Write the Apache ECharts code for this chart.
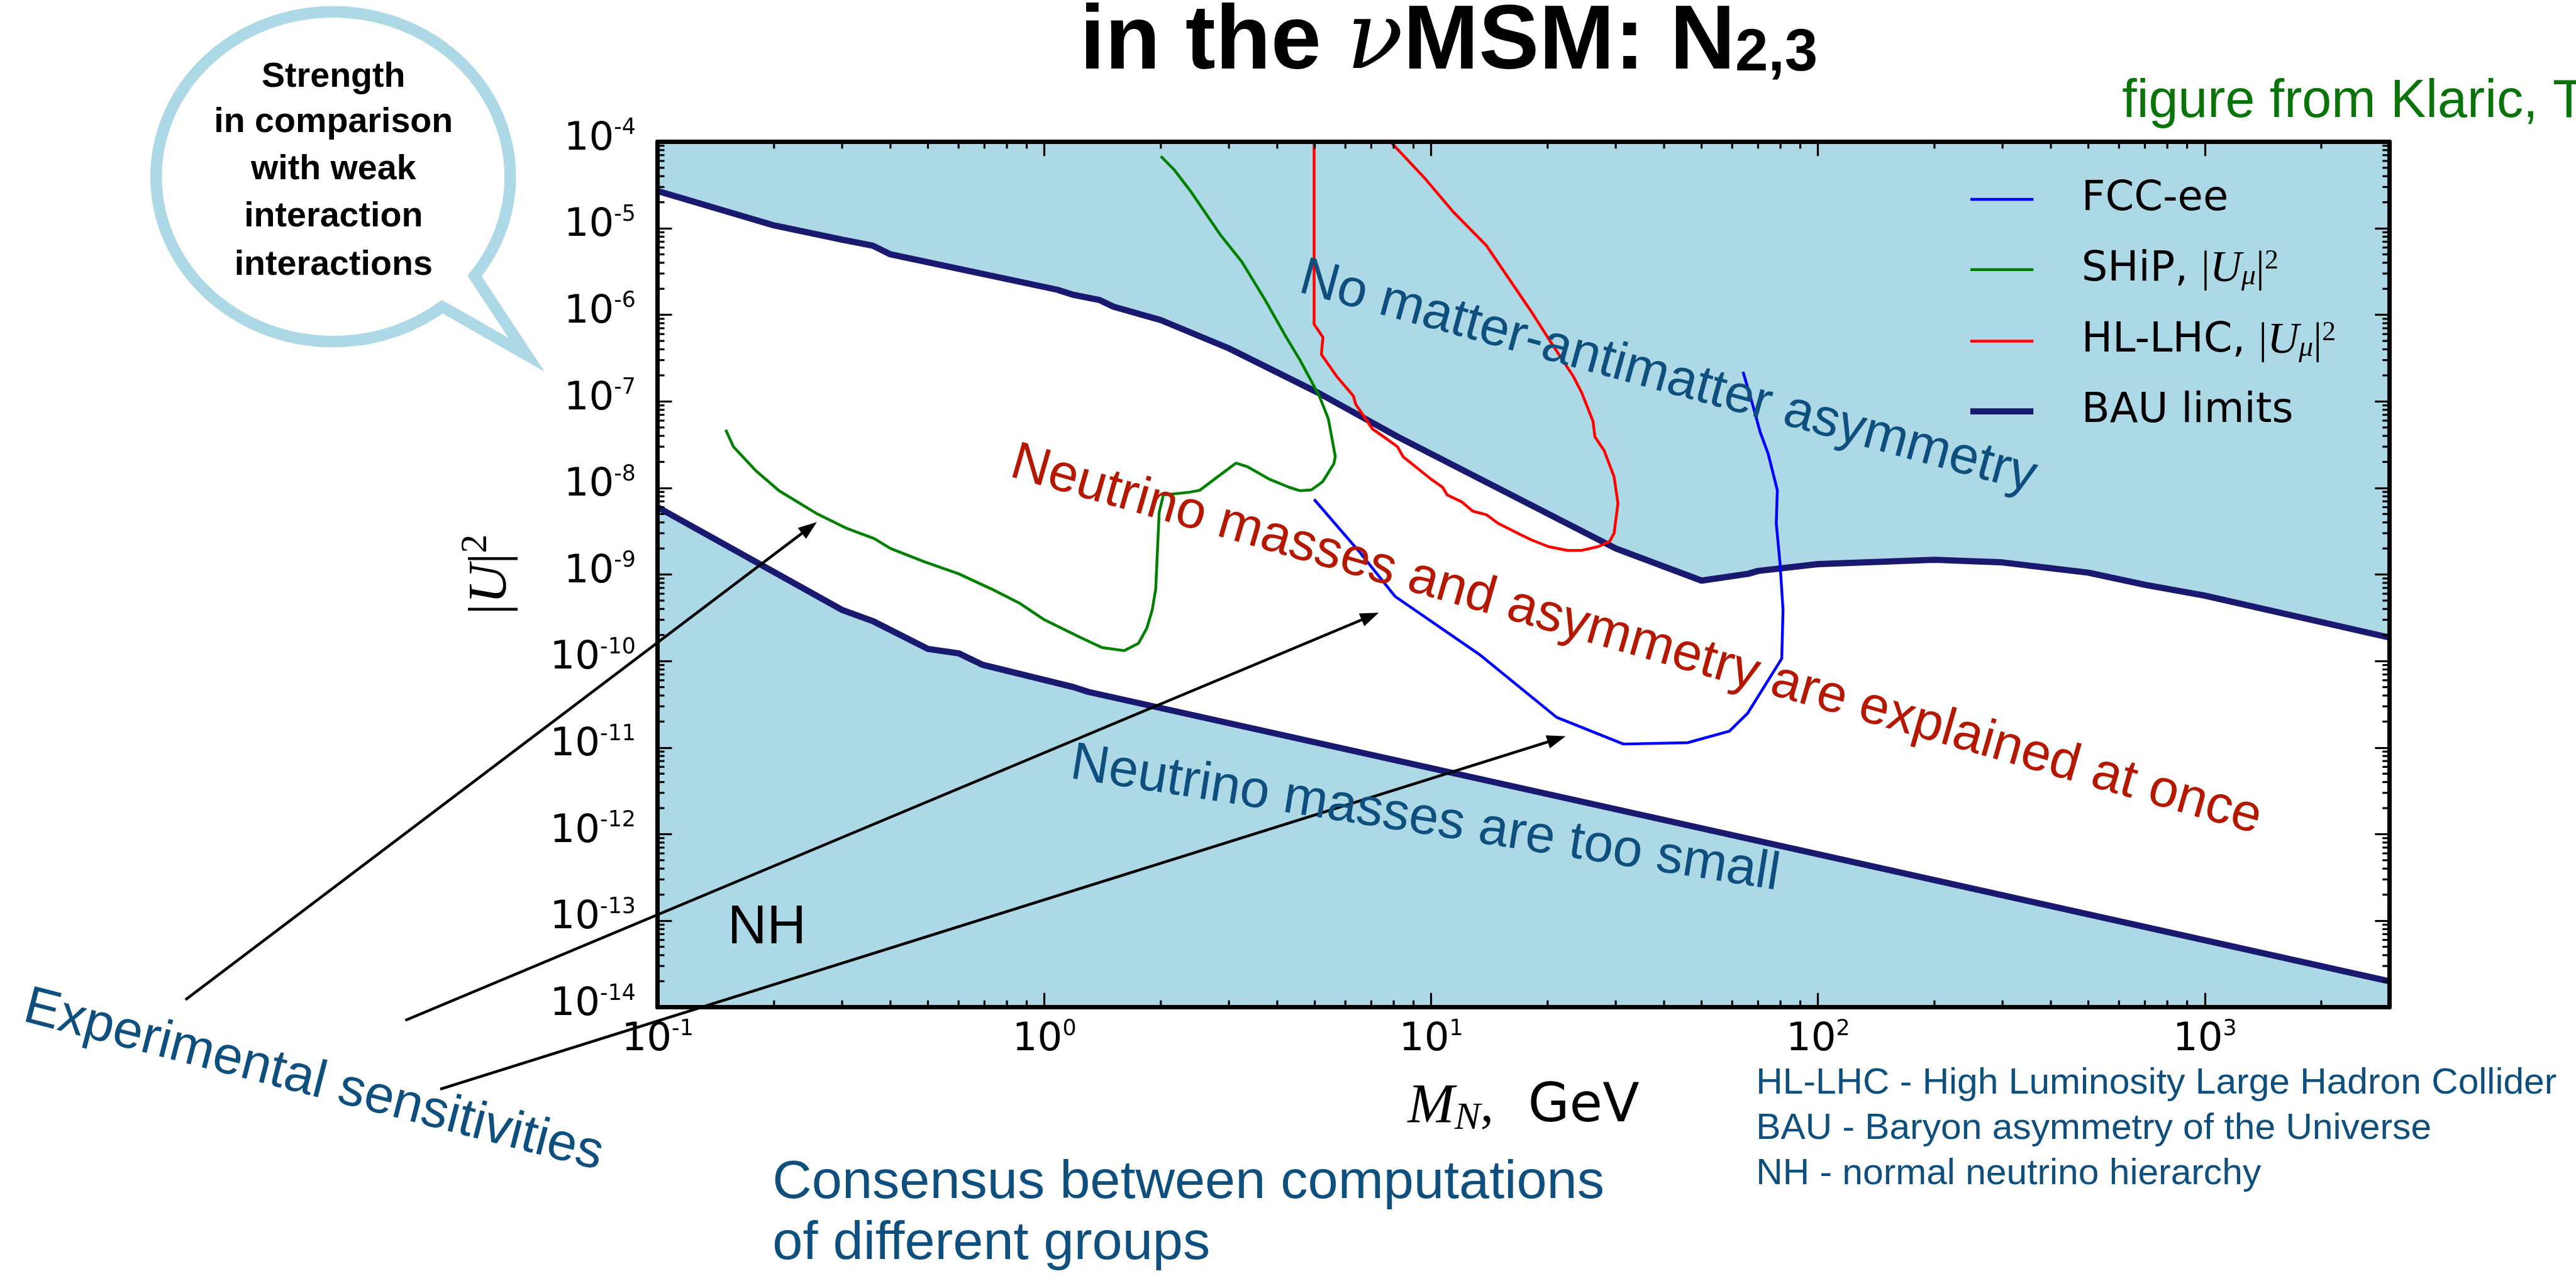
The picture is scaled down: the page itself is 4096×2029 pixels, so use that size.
<!DOCTYPE html>
<html>
<head>
<meta charset="utf-8">
<title>Heavy neutral leptons in the nuMSM</title>
<style>
  html, body { margin: 0; padding: 0; background: #ffffff; }
  #chart { width: 4096px; height: 2029px; }
</style>
<script src="https://cdn.jsdelivr.net/npm/echarts@6/dist/echarts.min.js"></script>
</head>
<body>
<div id="chart"></div>
<script>
// Parameter space of the heavy neutral leptons N2,3: mixing |U|^2 against mass M_N (GeV).
// Every curve is a list of [M_N in GeV, |U|^2] pairs.

const bauUpper = [
  [0.1, 2.7e-5], [0.2, 1.08e-5], [0.3, 7.4e-6], [0.36, 6.3e-6], [0.4, 5.0e-6],
  [1.08, 1.95e-6], [1.19, 1.7e-6], [1.39, 1.48e-6], [1.51, 1.24e-6], [2.0, 8.7e-7],
  [3.0, 4.1e-7], [5.1, 1.26e-7], [8.2, 3.9e-8], [30, 2.0e-9], [50, 8.5e-10],
  [66, 1.02e-9], [70, 1.1e-9], [100, 1.32e-9], [200, 1.48e-9], [300, 1.38e-9],
  [500, 1.05e-9], [700, 7.6e-10], [1000, 5.7e-10], [3000, 1.87e-10]
];

const bauLower = [
  [0.1, 6.0e-9], [0.3, 3.9e-10], [0.36, 2.9e-10], [0.5, 1.38e-10], [0.6, 1.23e-10],
  [0.69, 9.1e-11], [1.19, 5.0e-11], [1.3, 4.4e-11], [3000, 2.0e-14]
];

const ship = [
  [0.150, 4.7e-8], [0.157, 3.0e-8], [0.179, 1.6e-8], [0.206, 9.3e-9], [0.257, 5.1e-9],
  [0.309, 3.4e-9], [0.363, 2.6e-9], [0.40, 2.0e-9], [0.49, 1.4e-9], [0.60, 1.02e-9],
  [0.73, 6.8e-10], [0.86, 4.7e-10], [1.0, 3.0e-10], [1.24, 1.87e-10], [1.41, 1.43e-10],
  [1.61, 1.32e-10], [1.75, 1.6e-10], [1.84, 2.4e-10], [1.90, 3.9e-10], [1.94, 6.8e-10],
  [1.98, 5.2e-9], [2.03, 8.3e-9], [2.36, 8.9e-9], [2.52, 9.4e-9], [2.75, 1.26e-8],
  [3.13, 1.94e-8], [3.34, 1.77e-8], [3.82, 1.26e-8], [4.29, 1.02e-8], [4.58, 9.3e-9],
  [4.9, 9.5e-9], [5.24, 1.18e-8], [5.6, 1.9e-8], [5.65, 2.3e-8], [5.53, 3.9e-8],
  [5.42, 6.3e-8], [5.14, 1.15e-7], [4.58, 3.0e-7], [4.22, 5.5e-7], [3.70, 1.55e-6],
  [3.24, 4.1e-6], [2.84, 8.6e-6], [2.40, 2.6e-5], [2.17, 4.7e-5], [2.0, 6.8e-5]
];

const hlLHC = [
  [4.98, 1e-4], [4.98, 7.8e-7], [5.25, 5.5e-7], [5.2, 3.5e-7], [5.69, 1.96e-7],
  [6.29, 1.16e-7], [6.38, 9.3e-8], [7.05, 4.8e-8], [7.54, 3.9e-8], [8.18, 3.0e-8],
  [8.46, 2.3e-8], [10.0, 1.26e-8], [10.7, 1.02e-8], [11.0, 8.3e-9], [12.0, 6.9e-9],
  [12.8, 5.4e-9], [13.9, 4.9e-9], [14.9, 3.9e-9], [17.0, 2.9e-9], [18.2, 2.5e-9],
  [20.1, 2.1e-9], [22.5, 1.9e-9], [24.5, 1.9e-9], [27.0, 2.1e-9], [28.9, 2.4e-9],
  [29.7, 3.0e-9], [30.4, 6.6e-9], [29.7, 1.35e-8], [28.0, 2.7e-8], [26.5, 3.9e-8],
  [26.2, 5.9e-8], [24.5, 1.26e-7], [23.3, 1.95e-7], [20.4, 4.8e-7], [18.2, 1.07e-6],
  [13.9, 6.3e-6], [11.4, 1.55e-5], [9.67, 3.7e-5], [7.85, 1e-4]
];

const fccEE = [
  [4.98, 7.4e-9], [6.5, 1.86e-9], [8.06, 5.6e-10], [13.3, 1.2e-10], [21.1, 2.24e-11],
  [31.4, 1.1e-11], [46.0, 1.14e-11], [59.0, 1.55e-11], [65.8, 2.5e-11], [80.6, 1.07e-10],
  [81.2, 3.9e-10], [79.8, 1.32e-9], [78.0, 3.9e-9], [78.5, 9.4e-9], [74.3, 2.5e-8],
  [70.9, 4.4e-8], [67.7, 9.3e-8], [64.0, 2.2e-7]
];

// Axis ranges and the decades that carry a "10^n" label
const xRange = [0.1, 3000];
const yRange = [1e-14, 1e-4];
const xTickExponents = [-1, 0, 1, 2, 3];
const yTickExponents = [-14, -13, -12, -11, -10, -9, -8, -7, -6, -5, -4];

// Legend entries (series name -> rich label)
const legendNames = ['FCC-ee', 'SHiP', 'HL-LHC', 'BAU limits'];
const legendLabels = {
  'FCC-ee': '{t|FCC-ee}',
  'SHiP': '{t|SHiP, }{bar||}{i|U}{sub|μ}{bar||}{sup|2}',
  'HL-LHC': '{t|HL-LHC, }{bar||}{i|U}{sub|μ}{bar||}{sup|2}',
  'BAU limits': '{t|BAU limits}'
};

// ---------------------------------------------------------------------------
const K = 0.993;                      // drawing scale
const px = v => +(v * K).toFixed(2);
const L10 = Math.log10;
const toLog = pts => pts.map(([m, u]) => [L10(m), L10(u)]);
const xMin = L10(xRange[0]), xMax = L10(xRange[1]);
const yMin = L10(yRange[0]), yMax = L10(yRange[1]);
const isInt = v => Math.abs(v - Math.round(v)) < 1e-9;

const C = {
  fill: '#ADD8E6', bau: '#191970', fcc: '#0000FF', ship: '#008000', lhc: '#FF0000',
  note: '#0E4F7E', red: '#B51800', green: '#0A730A', ink: '#000000'
};

const SANS = '"Liberation Sans", Arial, sans-serif';
const MPL = '"DejaVu Sans", sans-serif';
const SERIF = '"Liberation Serif", "Times New Roman", serif';

const spine = { color: C.ink, width: px(7) };
const tickLine = { color: C.ink, width: px(3.2) };
const majorLen = px(23), minorLen = px(11);

const tickRich = {
  b: { fontFamily: MPL, fontSize: px(63), lineHeight: px(70), color: C.ink },
  s: { fontFamily: MPL, fontSize: px(35), lineHeight: px(40), verticalAlign: 'top', color: C.ink }
};
const powLabel = list => v => (isInt(v) && list.includes(Math.round(v))) ? '{b|10}{s|' + Math.round(v) + '}' : '';

function baseAxis(min, max, position) {
  return {
    type: 'value', min, max, interval: 1, position, z: 10,
    axisLine: { show: true, onZero: false, lineStyle: spine },
    axisTick: { show: true, inside: true, length: majorLen, lineStyle: tickLine },
    splitLine: { show: false },
    axisLabel: { show: false }
  };
}

// minor ticks at 2..9 x 10^n on each side of the frame
const xMinor = [], yMinor = [];
for (let e = Math.floor(xMin); e < Math.ceil(xMax); e++)
  for (let m = 2; m <= 9; m++) { const v = L10(m) + e; if (v < xMax) xMinor.push([v, yMin]); }
for (let e = Math.floor(yMin); e < Math.ceil(yMax); e++)
  for (let m = 2; m <= 9; m++) { const v = L10(m) + e; if (v < yMax) yMinor.push([xMin, v]); }

function minorTicks(data, horizontal) {
  return {
    type: 'custom', data, z: 10, silent: true, clip: false,
    renderItem(params, api) {
      const cs = params.coordSys;
      const p = api.coord([api.value(0), api.value(1)]);
      const st = { stroke: C.ink, lineWidth: tickLine.width };
      if (horizontal) {
        const x = p[0], b = cs.y + cs.height, t = cs.y;
        return { type: 'group', children: [
          { type: 'line', shape: { x1: x, y1: b, x2: x, y2: b - minorLen }, style: st },
          { type: 'line', shape: { x1: x, y1: t, x2: x, y2: t + minorLen }, style: st }
        ] };
      }
      const y = p[1], l = cs.x, r = cs.x + cs.width;
      return { type: 'group', children: [
        { type: 'line', shape: { x1: l, y1: y, x2: l + minorLen, y2: y }, style: st },
        { type: 'line', shape: { x1: r, y1: y, x2: r - minorLen, y2: y }, style: st }
      ] };
    }
  };
}

function curve(name, data, color, width, z) {
  return {
    type: 'line', name, data: toLog(data), symbol: 'none', showSymbol: false, z,
    itemStyle: { color }, lineStyle: { color, width: px(width) }, silent: true
  };
}
function band(data, origin) {
  return {
    type: 'line', data: toLog(data), symbol: 'none', showSymbol: false, z: 1, silent: true,
    lineStyle: { width: 0, opacity: 0 },
    areaStyle: { color: C.fill, opacity: 1, origin }
  };
}

// ---------------------------------------------------------------------------
// Annotations (reference-pixel layout, scaled on use)
const notes = [
  { text: 'No matter-antimatter asymmetry', x: 2671, y: 605, angle: 15.3, size: 85, color: C.note },
  { text: 'Neutrino masses and asymmetry are explained at once', x: 2620, y: 1026, angle: 16, size: 85, color: C.red },
  { text: 'Neutrino masses are too small', x: 2282, y: 1312, angle: 9.0, size: 85, color: C.note },
  { text: 'Experimental sensitivities', x: 502, y: 1731, angle: 14.5, size: 85, color: C.note },
  { text: 'NH', x: 1228, y: 1487, size: 87, color: C.ink },
  { text: 'Consensus between computations', x: 1237, y: 1895, size: 85, sx: 1.025, color: C.note, align: 'left' },
  { text: 'of different groups', x: 1237, y: 1993, size: 85, sx: 1.025, color: C.note, align: 'left' },
  { text: 'HL-LHC - High Luminosity Large Hadron Collider', x: 2812, y: 1735, size: 58, sx: 1.02, color: C.note, align: 'left' },
  { text: 'BAU - Baryon asymmetry of the Universe', x: 2812, y: 1808, size: 58, sx: 1.02, color: C.note, align: 'left' },
  { text: 'NH - normal neutrino hierarchy', x: 2812, y: 1880, size: 58, sx: 1.02, color: C.note, align: 'left' },
  { text: 'figure from Klaric, Timiryasov, Shaposhnikov', x: 3398, y: 164, size: 85, color: C.green, align: 'left' },
  { text: 'Strength', x: 534, y: 123.5, size: 56, weight: 'bold', color: C.ink },
  { text: 'in comparison', x: 534, y: 196, size: 56, weight: 'bold', color: C.ink },
  { text: 'with weak', x: 534, y: 271.5, size: 56, weight: 'bold', color: C.ink },
  { text: 'interaction', x: 534, y: 347.5, size: 56, weight: 'bold', color: C.ink },
  { text: 'interactions', x: 534, y: 424.5, size: 56, weight: 'bold', color: C.ink }
];

const arrows = [
  { from: [297, 1601], to: [1308, 836] },
  { from: [649, 1634], to: [2208, 981] },
  { from: [705, 1744], to: [2507, 1179] }
];

const bubble = { cx: 533.5, cy: 283, rx: 283.5, ry: 264, stroke: 18.5, tip: [843, 568], a0: 37, a1: 52 };

function noteEl(n) {
  return {
    type: 'text', z: 100, silent: true,
    x: px(n.x), y: px(n.y),
    rotation: -(n.angle || 0) * Math.PI / 180,
    scaleX: n.sx || 1,
    style: {
      text: n.text, fill: n.color,
      font: (n.weight || 'normal') + ' ' + px(n.size) + 'px ' + SANS,
      textAlign: n.align || 'center', textVerticalAlign: 'middle'
    }
  };
}

function arrowEls(a) {
  const [x1, y1] = a.from.map(px), [x2, y2] = a.to.map(px);
  const dx = x2 - x1, dy = y2 - y1, len = Math.hypot(dx, dy), ux = dx / len, uy = dy / len;
  const hl = px(30), hw = px(11);
  const bx = x2 - ux * hl, by = y2 - uy * hl;
  return [
    { type: 'line', z: 100, silent: true,
      shape: { x1, y1, x2: bx + ux * 3, y2: by + uy * 3 },
      style: { stroke: C.ink, lineWidth: px(4.5) } },
    { type: 'polygon', z: 100, silent: true,
      shape: { points: [[x2, y2], [bx - uy * hw, by + ux * hw], [bx + uy * hw, by - ux * hw]] },
      style: { fill: C.ink } }
  ];
}

function bubbleEl(b) {
  const pt = t => { const r = t * Math.PI / 180; return [px(b.cx + b.rx * Math.cos(r)), px(b.cy + b.ry * Math.sin(r))]; };
  const pts = [pt(b.a0), b.tip.map(px)];
  for (let t = b.a1; t < 360 + b.a0; t += 1) pts.push(pt(t));
  return {
    type: 'polygon', z: 100, silent: true,
    shape: { points: pts },
    style: { fill: 'none', stroke: C.fill, lineWidth: px(b.stroke), lineJoin: 'miter', miterLimit: 10 }
  };
}

// ---------------------------------------------------------------------------
const chart = echarts.init(document.getElementById('chart'), null, { renderer: 'canvas' });

const xBottom = baseAxis(xMin, xMax, 'bottom');
xBottom.axisLabel = { show: true, margin: px(17.5), formatter: powLabel(xTickExponents), rich: tickRich };
xBottom.name = '{i|M}{sub|N}{c|,}{r|  GeV}';
xBottom.nameLocation = 'middle';
xBottom.nameGap = px(110);
xBottom.nameTextStyle = { rich: {
  i: { fontFamily: SERIF, fontStyle: 'italic', fontSize: px(90), lineHeight: px(100), color: C.ink },
  sub: { fontFamily: SERIF, fontStyle: 'italic', fontSize: px(62), lineHeight: px(56), verticalAlign: 'bottom', color: C.ink },
  c: { fontFamily: SERIF, fontSize: px(86), lineHeight: px(100), color: C.ink },
  r: { fontFamily: MPL, fontSize: px(86), lineHeight: px(100), color: C.ink }
} };

const yLeft = baseAxis(yMin, yMax, 'left');
yLeft.axisLabel = { show: true, margin: px(35), formatter: powLabel(yTickExponents), rich: tickRich, padding: [0, 0, px(8), 0] };
yLeft.name = '{bar||}{i|U}{bar||}{sup|2}';
yLeft.nameLocation = 'middle';
yLeft.nameRotate = 90;
yLeft.nameGap = px(211);
yLeft.nameTextStyle = { rich: {
  bar: { fontFamily: SERIF, fontSize: px(88), lineHeight: px(110), color: C.ink },
  i: { fontFamily: SERIF, fontStyle: 'italic', fontSize: px(88), lineHeight: px(110), color: C.ink },
  sup: { fontFamily: SERIF, fontSize: px(60), lineHeight: px(61), verticalAlign: 'top', color: C.ink }
} };

const option = {
  animation: false,
  backgroundColor: '#ffffff',
  title: {
    text: '{b|in the }{nu|ν}{b|MSM: N}{sub|2,3}',
    left: px(1729), top: px(4.4), padding: 0,
    textStyle: { rich: {
      b: { fontFamily: SANS, fontWeight: 'bold', fontSize: px(145), lineHeight: px(130), color: C.ink },
      nu: { fontFamily: '"DejaVu Serif", serif', fontStyle: 'italic', fontWeight: 'normal', fontSize: px(150), lineHeight: px(130), color: C.ink },
      sub: { fontFamily: SANS, fontWeight: 'bold', fontSize: px(95), lineHeight: px(76), verticalAlign: 'bottom', color: C.ink }
    } }
  },
  grid: { left: px(1053), top: px(227), width: px(2773), height: px(1386), containLabel: false },
  xAxis: [xBottom, baseAxis(xMin, xMax, 'top')],
  yAxis: [yLeft, baseAxis(yMin, yMax, 'right')],
  legend: {
    orient: 'vertical', left: px(3145), top: px(281),
    itemWidth: px(101), itemHeight: 2, itemGap: px(44),
    selectedMode: false, data: legendNames,
    lineStyle: { width: 'inherit' },
    itemStyle: { borderWidth: 0 },
    formatter: name => legendLabels[name],
    textStyle: {
      fontFamily: MPL, fontSize: px(66), color: C.ink, padding: [0, 0, 0, px(72)],
      rich: {
        t: { fontFamily: MPL, fontSize: px(66), lineHeight: px(70), color: C.ink },
        bar: { fontFamily: SERIF, fontSize: px(70), lineHeight: px(70), color: C.ink },
        i: { fontFamily: SERIF, fontStyle: 'italic', fontSize: px(70), lineHeight: px(70), color: C.ink },
        sub: { fontFamily: SERIF, fontStyle: 'italic', fontSize: px(46), lineHeight: px(32), verticalAlign: 'bottom', color: C.ink },
        sup: { fontFamily: SERIF, fontSize: px(44), lineHeight: px(33), verticalAlign: 'top', color: C.ink }
      }
    }
  },
  series: [
    band(bauUpper, 'end'),
    band(bauLower, 'start'),
    curve('BAU limits', bauUpper, C.bau, 10, 2),
    curve('BAU limits', bauLower, C.bau, 10, 2),
    curve('SHiP', ship, C.ship, 4.5, 3),
    curve('HL-LHC', hlLHC, C.lhc, 4.5, 3),
    curve('FCC-ee', fccEE, C.fcc, 4.5, 3),
    minorTicks(xMinor, true),
    minorTicks(yMinor, false)
  ],
  graphic: {
    elements: [bubbleEl(bubble)]
      .concat(arrows.flatMap(arrowEls))
      .concat(notes.map(noteEl))
  }
};

chart.setOption(option);
</script>
</body>
</html>
